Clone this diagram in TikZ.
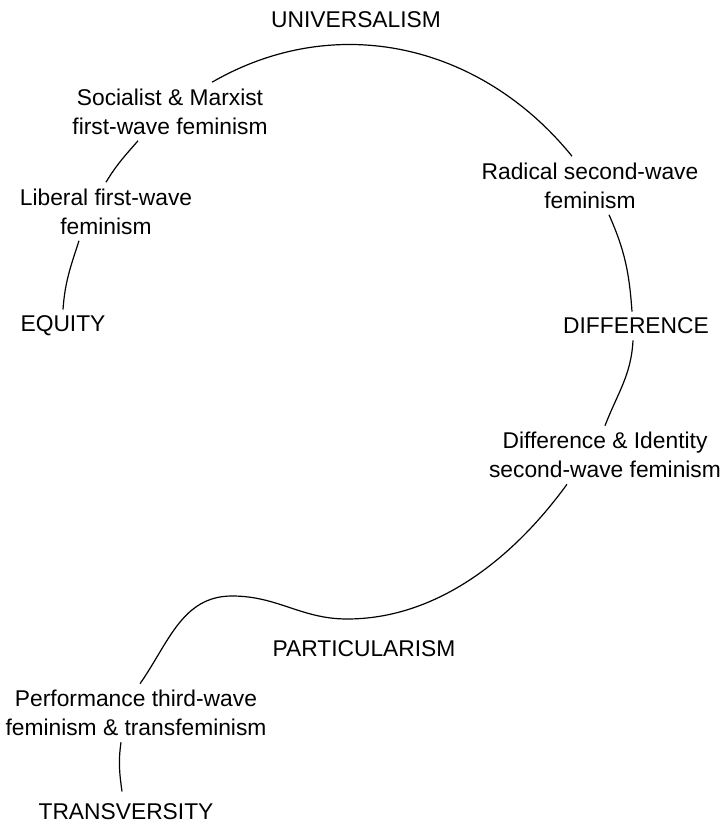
\documentclass[tikz,border=0pt]{standalone}
\usepackage{fontspec}
\setmainfont{Liberation Sans}
\begin{document}
\begin{tikzpicture}[x=0.5pt, y=0.5pt,
    lbl/.style={font=\fontsize{11.4}{14.5}\selectfont, align=center, inner sep=3pt},
    wave/.style={line width=0.6pt}]
    \useasboundingbox (0,0) rectangle (724,826);

    % Poles
    \node[lbl] (uni) at (356,806) {UNIVERSALISM};
    \node[lbl] (equ) at (63,500) {EQUITY};
    \node[lbl] (dif) at (636,500) {DIFFERENCE};
    \node[lbl] (par) at (364,177) {PARTICULARISM};
    \node[lbl] (tra) at (126,14) {TRANSVERSITY};

    % Feminisms along the curve
    \node[lbl] (soc) at (170,714.5) {Socialist \& Marxist\\first-wave feminism};
    \node[lbl] (lib) at (106,614.5) {Liberal first-wave\\feminism};
    \node[lbl] (rad) at (590,640.5) {Radical second-wave\\feminism};
    \node[lbl] (did) at (605,371) {Difference \& Identity\\second-wave feminism};
    \node[lbl] (per) at (136,113) {Performance third-wave\\feminism \& transfeminism};

    % Circle pieces
    \draw[wave] ([xshift=21pt]soc.north) to[out=30,in=129] ([xshift=-9pt]rad.north);
    \draw[wave] ([xshift=-16pt]soc.south) to[out=229,in=59] (lib.north);
    \draw[wave] ([xshift=-13.5pt]lib.south) to[out=252,in=86] (equ.north);
    \draw[wave] ([xshift=9.5pt]rad.south) to[out=-66,in=94] ([xshift=-2pt]dif.north);
    \draw[wave] ([xshift=-1.5pt]dif.south) to[out=-93,in=69] (did.north);

    % Tail towards transversity
    \coordinate (dip) at (347,207);
    \coordinate (bump) at (232,230);
    \draw[wave] ([xshift=-19pt]did.south) to[out=-126,in=0,looseness=0.9] (dip)
        to[out=180,in=0] (bump) to[out=180,in=55] ([xshift=2pt]per.north);
    \draw[wave] ([xshift=-7.5pt]per.south) to[out=262,in=98] ([xshift=-2pt,yshift=3pt]tra.north);
\end{tikzpicture}
\end{document}
